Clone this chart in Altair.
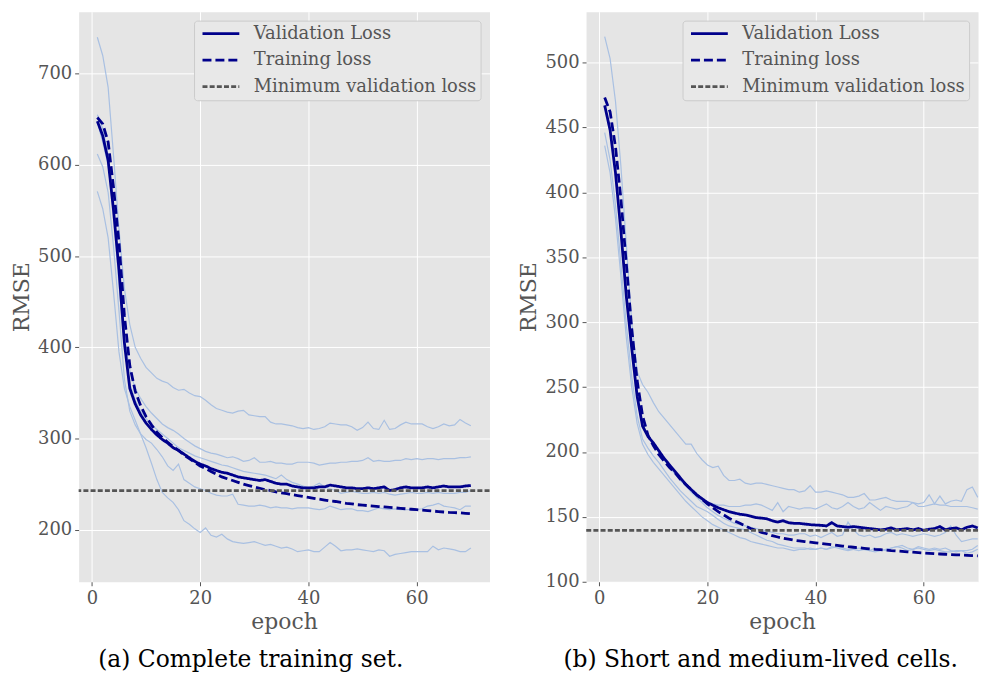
import altair as alt
import pandas as pd

EPOCHS = list(range(1, 71))
SERIES = ["Validation Loss", "Training loss", "Minimum validation loss"]
X_TICKS = [0, 20, 40, 60]

# ---------------- panel (a) ----------------
A_VAL = [648, 632, 605, 550, 485, 405, 355, 338, 326, 317,
         310, 304, 299, 295, 290, 287, 283, 279, 275, 272,
         270, 267, 265, 263, 262, 260, 258, 257, 256, 255,
         254, 255, 253, 251, 250, 250, 248, 247, 246, 246,
         246, 247, 247, 249, 248, 247, 246, 246, 245, 245,
         246, 245, 246, 247, 243, 244, 246, 247, 246, 246,
         246, 247, 246, 247, 248, 247, 247, 247, 248, 248.5]
A_TRAIN = [652, 645, 625, 575, 515, 435, 380, 352, 336, 324,
           315, 307, 301, 296, 291, 287, 282, 278, 274, 270,
           267, 264, 261, 258, 256, 254, 252, 250, 248.5, 247,
           245.5, 244, 243, 241.5, 240.5, 239.5, 238.5, 237.5, 236.5, 235.5,
           234.5, 233.5, 232.5, 231.5, 231, 230, 229, 228.5, 227.5, 227,
           226.5, 226, 225.5, 225, 224.5, 224, 223.5, 223, 222.5, 222,
           221.5, 221, 220.5, 220, 219.5, 219, 218.8, 218.5, 218, 217.5]
A_FOLD1 = [740, 720, 685, 610, 530, 465, 425, 400, 388, 378,
           372, 366, 363, 361, 356, 353, 354, 350, 347, 346,
           342, 337, 333, 331, 329, 328, 330, 331, 326, 325,
           324, 324, 318, 316, 316, 315, 314, 312, 311, 312,
           310, 311, 313, 317, 316, 315, 315, 313, 309, 312,
           318, 311, 310, 320, 310, 311, 315, 318, 316, 316,
           316, 313, 311, 313, 316, 314, 315, 321, 317, 314]
A_FOLD2 = [655, 640, 610, 555, 480, 410, 375, 355, 344, 335,
           328, 322, 316, 312, 309, 305, 300, 296, 292, 289,
           286, 284, 283, 281, 279, 280, 278, 275, 276, 279,
           274, 274, 275, 273, 273, 272, 272, 274, 274, 274,
           273, 271, 272, 273, 273, 274, 274, 275, 275, 276,
           279, 275, 276, 275, 275, 276, 276, 278, 277, 278,
           277, 278, 278, 277, 278, 278, 278, 279, 279, 280]
A_FOLD3 = [647, 625, 600, 545, 470, 400, 360, 342, 330, 322,
           315, 310, 305, 300, 295, 290, 287, 284, 281, 279,
           277, 275, 273, 271, 270, 268, 266, 264, 263, 262,
           261, 260, 258, 256, 260, 255, 252, 250, 248, 246,
           248, 251, 247, 245, 243, 240, 241, 242, 241, 240,
           240, 241, 240, 241, 239, 238, 239, 240, 241, 240,
           240, 241, 240, 241, 240, 240, 240, 241, 241, 243]
A_FOLD4 = [612, 598, 570, 510, 440, 365, 330, 315, 305, 299,
           295, 288, 280, 270, 265, 272, 255, 251, 247, 245,
           243, 240, 238, 237, 237, 239, 228, 227, 226, 226,
           227, 226, 224, 225, 224, 224, 223, 224, 224, 224,
           223, 222, 223, 226, 224, 222, 223, 223, 221, 221,
           220, 222, 224, 223, 222, 223, 222, 222, 222, 222,
           223, 226, 227, 229, 226, 225, 224, 222, 226, 226]
A_FOLD5 = [571, 552, 520, 460, 395, 355, 335, 320, 305, 290,
           273, 255, 241, 235, 230, 222, 210, 206, 201, 197,
           202, 194, 192, 195, 190, 187, 186, 185, 186, 187,
           185, 183, 184, 182, 180, 181, 179, 176, 177, 178,
           176, 176, 181, 186, 182, 177, 178, 178, 179, 178,
           177, 176, 178, 177, 171, 173, 174, 175, 176, 176,
           176, 176, 182, 178, 180, 179, 178, 176, 176, 180]
A_FOLDS = [A_FOLD1, A_FOLD2, A_FOLD3, A_FOLD4, A_FOLD5]
A_Y_TICKS = [200, 300, 400, 500, 600, 700]
A_Y_DOMAIN = [143, 768]
A_X_DOMAIN = [-2.45, 73.45]
A_CAPTION = "(a) Complete training set."

# ---------------- panel (b) ----------------
B_VAL = [467, 448, 415, 370, 320, 280, 243, 220, 212, 207,
         201, 195, 190, 185, 180, 175, 171, 167, 164, 161,
         159, 157, 155.5, 154, 153, 152, 151.5, 150.5, 149.5, 149,
         148.5, 147, 146, 147, 145.5, 145, 145, 144.5, 144, 143.7,
         143.5, 143, 145.5, 143, 142.5, 142, 142.5, 142, 141.5, 141,
         140.5, 140, 140.5, 141.5, 140, 140.5, 141, 140, 141, 139.6,
         140.5, 141, 142.5, 140, 141, 141.5, 140, 142, 143, 141.5]
B_TRAIN = [473, 462, 435, 395, 345, 295, 255, 228, 213, 205,
           198, 193, 188, 184, 179, 175, 171, 167, 163.5, 160,
           157, 154, 151.5, 149, 147, 145, 143, 141, 139.5, 138,
           137, 135.5, 134.5, 133.5, 132.8, 132, 131.5, 131, 130.5, 130,
           129.5, 129, 128.5, 128, 127.5, 127, 126.6, 126.2, 125.8, 125.4,
           125, 124.7, 124.4, 124, 123.7, 123.4, 123.1, 122.8, 122.5, 122.2,
           121.9, 121.6, 121.4, 121.2, 121, 120.8, 120.6, 120.4, 120.2, 120]
B_FOLD1 = [520, 503, 470, 420, 360, 300, 262, 252, 246, 238,
           231, 226, 221, 216, 211, 206, 206, 199, 194, 190,
           188, 189, 182, 178, 178, 179, 176, 175, 176, 176,
           175, 174, 173, 172, 171, 171, 169, 170, 174, 169,
           169, 170, 169, 168, 167, 165, 165, 166, 168, 163,
           163, 164, 165, 163, 162, 162, 162, 161, 160, 161,
           167, 160, 166, 160, 162, 163, 162, 171, 173, 165]
B_FOLD2 = [466, 446, 412, 368, 318, 276, 240, 220, 212, 206,
           200, 194, 188, 183, 178, 174, 170, 166, 163, 161,
           160, 159, 159, 158, 158, 158, 159, 159, 160, 159,
           157, 155, 161, 154, 158, 157, 156, 157, 157, 156,
           158, 160, 157, 156, 158, 161, 158, 156, 157, 161,
           158, 155, 158, 157, 156, 157, 158, 161, 158, 158,
           159, 160, 159, 159, 158, 158, 158, 158, 157, 156]
B_FOLD3 = [466, 450, 418, 372, 322, 282, 246, 222, 213, 206,
           200, 194, 189, 184, 179, 174, 169, 165, 161, 157,
           154, 151, 149, 147, 145, 144, 143, 142, 141, 140,
           139, 138, 137, 137, 136, 136, 137, 137, 135, 136,
           134, 136, 138, 135, 136, 146, 140, 136, 135, 136,
           134, 135, 137, 138, 136, 137, 136, 135, 136, 137,
           136, 135, 136, 138, 143, 136, 131, 132, 133, 133]
B_FOLD4 = [446, 425, 390, 345, 298, 258, 228, 210, 203, 197,
           192, 186, 180, 175, 170, 166, 162, 158, 156, 154,
           151, 148, 145, 143, 142, 141, 140, 138, 136, 134,
           132, 131, 129, 128, 127, 126, 126, 126, 125, 125,
           126, 125, 126, 127, 126, 125, 125, 124, 125, 124,
           123, 124, 125, 126, 127, 126, 124, 125, 126, 125,
           124, 125, 124, 123, 123, 124, 124, 122, 123, 125]
B_FOLD5 = [436, 415, 380, 335, 288, 250, 222, 206, 198, 192,
           187, 182, 177, 172, 167, 162, 158, 154, 150, 147,
           144, 142, 140, 138, 136, 134, 133, 131, 130, 129,
           128, 127, 126, 126, 125, 124, 125, 125, 126, 125,
           126, 125, 127, 126, 125, 124, 125, 126, 125, 124,
           126, 125, 124, 126, 127, 128, 126, 125, 127, 126,
           125, 126, 125, 126, 124, 123, 124, 124, 125, 128]
B_FOLDS = [B_FOLD1, B_FOLD2, B_FOLD3, B_FOLD4, B_FOLD5]
B_Y_TICKS = [100, 150, 200, 250, 300, 350, 400, 450, 500]
B_Y_DOMAIN = [100, 539.2]
B_X_DOMAIN = [-2.45, 70.05]
B_CAPTION = "(b) Short and medium-lived cells."

FONT = "DejaVu Serif"
NAVY = "#00008B"
FOLD_COLOR = "#A9C0E2"


def panel(val, train, folds, x_domain, y_domain, y_ticks, caption, width, cap_dx):
    for s in [val, train] + folds:
        assert len(s) == len(EPOCHS)
    fold_rows = []
    for i, f in enumerate(folds):
        for e, v in zip(EPOCHS, f):
            fold_rows.append({"epoch": e, "value": v, "fold": f"fold {i + 1}"})
    main_rows = [{"epoch": e, "value": v, "series": SERIES[0]} for e, v in zip(EPOCHS, val)]
    main_rows += [{"epoch": e, "value": v, "series": SERIES[1]} for e, v in zip(EPOCHS, train)]
    min_df = pd.DataFrame({"value": [min(val)], "series": [SERIES[2]]})

    x = alt.X("epoch:Q", title="epoch",
              scale=alt.Scale(domain=x_domain, nice=False, zero=False),
              axis=alt.Axis(values=X_TICKS, labelPadding=4, titlePadding=4))
    y = alt.Y("value:Q", title="RMSE",
              scale=alt.Scale(domain=y_domain, nice=False, zero=False),
              axis=alt.Axis(values=y_ticks, labelPadding=3, titlePadding=4))

    leg = alt.Legend(title=None, orient="top-right", offset=9, symbolType="stroke",
                     symbolSize=1369, clipHeight=18, labelFont=FONT, labelFontSize=18,
                     labelColor="#555555", labelLimit=400, fillColor="#E8E8E8",
                     strokeColor="#CCCCCC", padding=4, symbolOffset=3, cornerRadius=3,
                     rowPadding=8.7, labelOffset=13)
    color = alt.Color("series:N", scale=alt.Scale(domain=SERIES, range=[NAVY, NAVY, "#555555"]), legend=leg)
    dash = alt.StrokeDash("series:N", scale=alt.Scale(domain=SERIES, range=[[1, 0], [9, 4], [5, 2.2]]), legend=leg)
    sw = alt.StrokeWidth("series:N", scale=alt.Scale(domain=SERIES, range=[2.8, 2.8, 1.3]), legend=leg)

    folds_layer = alt.Chart(pd.DataFrame(fold_rows)).mark_line(
        color=FOLD_COLOR, strokeWidth=1.2).encode(x=x, y=y, detail="fold:N")
    main_layer = alt.Chart(pd.DataFrame(main_rows)).mark_line().encode(
        x=x, y=y, color=color, strokeDash=dash, strokeWidth=sw)
    min_layer = alt.Chart(min_df).mark_rule().encode(
        y=alt.Y("value:Q"), color=color, strokeDash=dash, strokeWidth=sw)

    return alt.layer(folds_layer, main_layer, min_layer).properties(
        width=width, height=573,
        title=alt.TitleParams(caption, orient="bottom", anchor="middle", frame="bounds",
                              font=FONT, fontSize=23.5, fontWeight="normal",
                              color="black", offset=16, dx=cap_dx))


left = panel(A_VAL, A_TRAIN, A_FOLDS, A_X_DOMAIN, A_Y_DOMAIN, A_Y_TICKS, A_CAPTION, 413, 0)
right = panel(B_VAL, B_TRAIN, B_FOLDS, B_X_DOMAIN, B_Y_DOMAIN, B_Y_TICKS, B_CAPTION, 394, 10)

chart = alt.hconcat(left, right, spacing=26).resolve_scale(
    x="independent", y="independent", color="independent",
    strokeDash="independent", strokeWidth="independent"
).resolve_legend(
    color="independent", strokeDash="independent", strokeWidth="independent"
).properties(
    padding={"left": 2, "top": 2, "right": 0, "bottom": 0}
).configure_view(
    fill="#E5E5E5", strokeOpacity=0
).configure_axis(
    grid=True, gridColor="white", gridWidth=1, domain=False,
    tickColor="#555555", tickSize=4, tickWidth=1,
    labelFont=FONT, labelFontSize=18, labelColor="#555555",
    titleFont=FONT, titleFontSize=22, titleColor="#555555", titleFontWeight="normal"
)

chart.save("out.html", embed_options={"renderer": "svg", "actions": False})
